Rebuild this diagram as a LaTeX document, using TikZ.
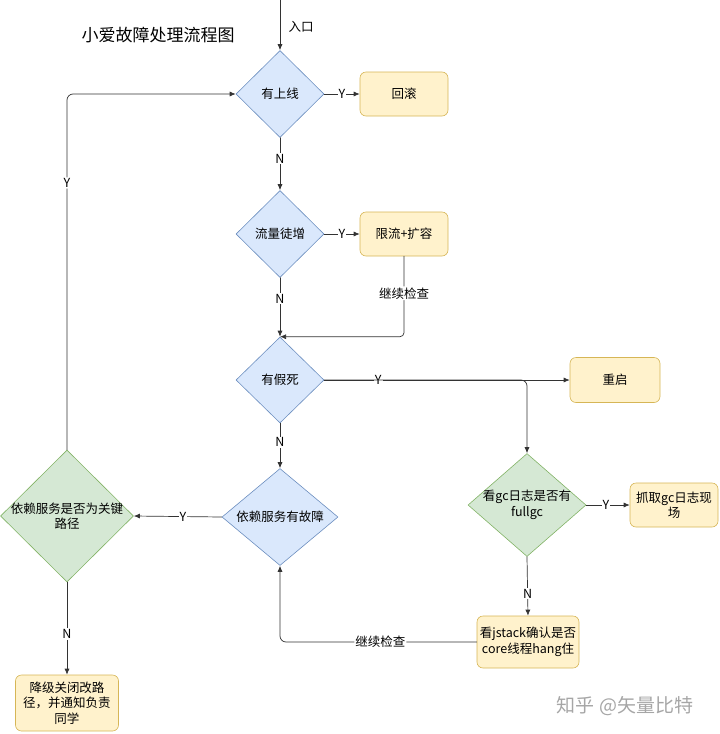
\documentclass[tikz,border=0pt]{standalone}
\usepackage{fontspec}
\setmainfont{Noto Sans CJK SC}
\usetikzlibrary{shapes.geometric,arrows.meta}
\definecolor{bfill}{HTML}{DAE8FC}
\definecolor{bline}{HTML}{6C8EBF}
\definecolor{gfill}{HTML}{D5E8D4}
\definecolor{gline}{HTML}{82B366}
\definecolor{yfill}{HTML}{FFF2CC}
\definecolor{yline}{HTML}{D6B656}
\definecolor{edgecol}{HTML}{333333}

\begin{document}
\begin{tikzpicture}[x=1pt,y=-1pt,line cap=round,line join=round,
	every node/.style={font=\fontsize{12.5}{15.5}\selectfont, text=black},
	bdia/.style={diamond, draw=bline, fill=bfill, inner sep=0pt, line width=0.6pt},
	gdia/.style={diamond, draw=gline, fill=gfill, inner sep=0pt, line width=0.6pt},
	ybox/.style={rectangle, rounded corners=6pt, draw=yline, fill=yfill, inner sep=1pt, align=center, line width=0.6pt},
	arr/.style={draw=edgecol, line width=0.7pt, -{Latex[length=6pt,width=5pt]}},
	lbl/.style={fill=white, inner sep=1pt}]
	\useasboundingbox (0,0) rectangle (720,734);
	%% title
	\node (title) at (158,35) {\fontsize{17}{20}\selectfont 小爱故障处理流程图};
	\coordinate (entry) at (280,0);
	\node (entrytxt) at (301,27) {入口};
	%% diamonds
	\node[bdia, minimum width=88, minimum height=87, label={center:有上线}] (d1) at (280,94) {};
	\node[bdia, minimum width=88, minimum height=87, label={center:流量徒增}] (d2) at (280,234) {};
	\node[bdia, minimum width=88, minimum height=86, label={center:有假死}] (d3) at (280,380) {};
	\node[bdia, minimum width=116, minimum height=97, label={center:依赖服务有故障}] (d5) at (280,517) {};
	\node[gdia, minimum width=118, minimum height=103, label={[align=center]center:看gc日志是否有\\fullgc}] (d4) at (527,505) {};
	\node[gdia, minimum width=133, minimum height=132, label={[align=center]center:依赖服务是否为关键\\路径}] (d6) at (67,516) {};
	%% boxes
	\node[ybox, minimum width=88, minimum height=44] (b1) at (404,94) {回滚};
	\node[ybox, minimum width=88, minimum height=44] (b2) at (404,234) {限流+扩容};
	\node[ybox, minimum width=90, minimum height=45] (b3) at (615,380) {重启};
	\node[ybox, minimum width=88, minimum height=44] (b4) at (674,505) {抓取gc日志现\\场};
	\node[ybox, minimum width=102, minimum height=52] (b5) at (528,642) {看jstack确认是否\\core线程hang住};
	\node[ybox, minimum width=103, minimum height=56] (b6) at (67,703) {降级关闭改路\\径，并通知负责\\同学};
	%% edges
	\draw[arr] (entry) -- (d1.north);
	\draw[arr] (d1.east) -- node[lbl] {Y} (b1.west);
	\draw[arr] (d1.south) -- node[lbl,pos=0.4] {N} (d2.north);
	\draw[arr] (d2.east) -- node[lbl] {Y} (b2.west);
	\draw[arr] (d2.south) -- node[lbl,pos=0.35] {N} (d3.north);
	\draw[arr,rounded corners=4pt] (b2.south) -- node[lbl,pos=0.46] {继续检查} (b2.south |- d3.north) -- (d3.north);
	\draw[arr] (d3.east) -- node[lbl,pos=0.22] {Y} (b3.west);
	\draw[arr,rounded corners=6pt] (d3.east) -| (d4.north);
	\draw[arr] (d4.east) -- node[lbl,pos=0.45] {Y} (b4.west);
	\draw[arr] (d4.south) -- node[lbl,pos=0.63] {N} (b5.north);
	\draw[arr] (d3.south) -- node[lbl,pos=0.42] {N} (d5.north);
	\draw[arr,rounded corners=6pt] (b5.west) -- node[lbl,pos=0.49] {继续检查} (b5.west -| d5.south) -- (d5.south);
	\draw[arr] (d5.west) -- node[lbl,pos=0.44] {Y} (d6.east);
	\draw[arr,rounded corners=6pt] (d6.north) -- node[lbl,pos=0.75] {Y} (d6.north |- d1.west) -- (d1.west);
	\draw[arr] (d6.south) -- node[lbl,pos=0.56] {N} (b6.north);
	%% watermark
	\node[text=black!35] (mark) at (625,706) {\fontsize{19}{22}\selectfont 知乎 @矢量比特};
\end{tikzpicture}
\end{document}
